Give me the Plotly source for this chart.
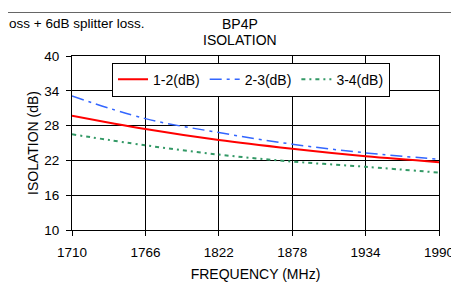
import plotly.graph_objects as go

freq = [1710, 1766, 1822, 1878, 1934, 1990]
iso_12 = [29.7, 27.4, 25.5, 24.0, 22.7, 21.7]
iso_23 = [33.1, 29.2, 26.8, 24.8, 23.3, 22.2]
iso_34 = [26.5, 24.6, 23.0, 21.8, 20.9, 19.9]
names = ["1-2(dB)", "2-3(dB)", "3-4(dB)"]
x_ticks = [1710, 1766, 1822, 1878, 1934, 1990]
y_ticks = [10, 16, 22, 28, 34, 40]

W, H = 459, 283
L, R, T, B = 64, 28, 48, 49
pw, ph = W - L - R, H - T - B


def px_x(x):
    return (x - L) / pw


def px_y(y):
    return (H - B - y) / ph


font = "Liberation Sans, Arial, sans-serif"
fig = go.Figure()
fig.add_trace(go.Scatter(x=freq, y=iso_12, name=names[0], mode="lines",
                         line=dict(color="#ff0000", width=2, shape="spline")))
fig.add_trace(go.Scatter(x=freq, y=iso_23, name=names[1], mode="lines",
                         line=dict(color="#3366ff", width=1.5, dash="12px,5px,3px,5px", shape="spline")))
fig.add_trace(go.Scatter(x=freq, y=iso_34, name=names[2], mode="lines",
                         line=dict(color="#339966", width=2, dash="4px,4px,2px,4px", shape="spline")))

fig.update_layout(
    width=W, height=H,
    margin=dict(l=L, r=R, t=T, b=B),
    paper_bgcolor="white", plot_bgcolor="white",
    font=dict(family=font, size=13.5, color="black"),
    showlegend=True,
    legend=dict(orientation="h", x=px_x(104), y=px_y(55), xanchor="left", yanchor="top",
                bgcolor="white", bordercolor="black", borderwidth=1,
                font=dict(size=14), itemwidth=30, tracegroupgap=0),
    xaxis=dict(range=[1710, 1990], tickvals=x_ticks, showgrid=True, gridcolor="black",
               gridwidth=1, ticks="outside", ticklen=5, tickcolor="black",
               ticklabelstandoff=5,
               showline=True, linecolor="black", linewidth=1, mirror=True,
               zeroline=False, title=dict(text="FREQUENCY (MHz)", standoff=9, font=dict(size=14))),
    yaxis=dict(range=[10, 40], tickvals=y_ticks, showgrid=True, gridcolor="black",
               gridwidth=1, ticks="outside", ticklen=5, tickcolor="black",
               ticklabelstandoff=4,
               showline=True, linecolor="black", linewidth=1, mirror=True,
               zeroline=False, title=dict(text="ISOLATION (dB)", standoff=2, font=dict(size=14))),
)
fig.add_annotation(text="BP4P", x=px_x(232), y=px_y(14), xref="paper", yref="paper",
                   xanchor="center", yanchor="middle", showarrow=False, font=dict(size=14))
fig.add_annotation(text="ISOLATION", x=px_x(232), y=px_y(31), xref="paper", yref="paper",
                   xanchor="center", yanchor="middle", showarrow=False, font=dict(size=14))
fig.add_annotation(text="oss + 6dB splitter loss.", x=px_x(-1), y=px_y(13), xref="paper", yref="paper",
                   xanchor="left", yanchor="middle", showarrow=False, font=dict(size=13.5))
fig.add_shape(type="line", xref="paper", yref="paper", x0=px_x(0), x1=px_x(W), y0=px_y(1.5), y1=px_y(1.5),
              line=dict(color="#666666", width=1))
fig.write_html("out.html")
